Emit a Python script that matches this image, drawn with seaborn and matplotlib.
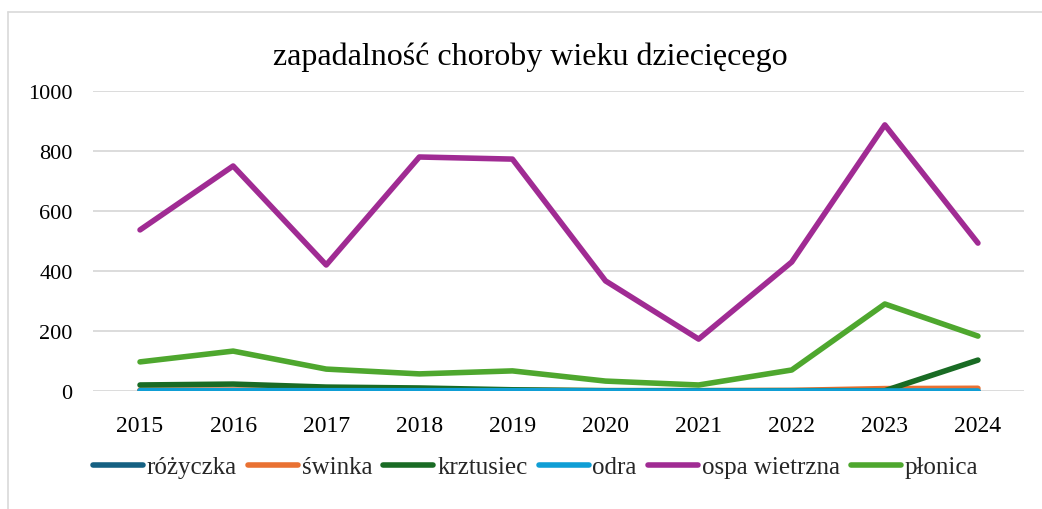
import matplotlib
matplotlib.use("Agg")
import matplotlib.pyplot as plt
import seaborn as sns
import pandas as pd
from matplotlib.lines import Line2D

years = ["2015", "2016", "2017", "2018", "2019", "2020", "2021", "2022", "2023", "2024"]
rozyczka = [1, 1, 0, 0, 0, 0, 0, 0, 0, 0]
swinka = [3, 3, 3, 3, 2, 1, 1, 2, 8, 9]
krztusiec = [20, 23, 13, 10, 4, 1, 1, 1, 1, 103]
odra = [1, 1, 1, 1, 1, 0, 0, 0, 0, 0]
ospa = [537, 750, 420, 780, 773, 367, 173, 430, 887, 493]
plonica = [97, 133, 73, 57, 67, 33, 20, 70, 290, 183]

series_names = ["różyczka", "świnka", "krztusiec", "odra", "ospa wietrzna", "płonica"]
series_vals = [rozyczka, swinka, krztusiec, odra, ospa, plonica]
colors = ["#156082", "#E97132", "#196B24", "#0F9ED5", "#A02B93", "#4EA72E"]

rows = []
for name, vals in zip(series_names, series_vals):
    for i, (yr, v) in enumerate(zip(years, vals)):
        rows.append({"idx": i, "rok": yr, "choroba": name, "wartosc": v})
df = pd.DataFrame(rows)

sns.set_theme(style="white")
plt.rcParams["font.family"] = ["Liberation Serif", "DejaVu Serif"]

fig = plt.figure(figsize=(10.42, 5.10), dpi=100)
ax = fig.add_axes([0.0897, 0.2314, 0.9832 - 0.0897, 0.8196 - 0.2314])

sns.lineplot(data=df, x="idx", y="wartosc", hue="choroba", hue_order=series_names,
             palette=colors, linewidth=4.0, ax=ax, legend=False, sort=False)
for ln in ax.get_lines():
    ln.set_solid_capstyle("round")
    ln.set_solid_joinstyle("round")

ax.set_xlim(-0.5, 9.5)
ax.set_ylim(0, 1000)
ax.set_yticks([0, 200, 400, 600, 800, 1000])
ax.set_xticks(range(len(years)))
ax.set_xticklabels(years)
ax.yaxis.grid(True, color="#d9d9d9", linewidth=1.3)
ax.set_axisbelow(True)
for s in ax.spines.values():
    s.set_visible(False)
ax.tick_params(axis="both", length=0, labelsize=17, colors="black")
ax.tick_params(axis="x", pad=17)
ax.tick_params(axis="y", labelsize=16, pad=15)
ax.set_xlabel("")
ax.set_ylabel("")

fig.text(0.5087, 0.888, "zapadalność choroby wieku dziecięcego", ha="center", va="center",
         fontsize=23, color="black")

handles = [Line2D([0], [0], color=c, linewidth=4.0, solid_capstyle="round") for c in colors]
fig.legend(handles, series_names, loc="center", bbox_to_anchor=(0.514, 0.082), ncol=6,
           frameon=False, fontsize=18, handlelength=2.0, handletextpad=0.15, columnspacing=0.45)

# outer chart border
fig.add_artist(Line2D([8 / 1042, 1.0], [1 - 13 / 510, 1 - 13 / 510], transform=fig.transFigure,
                      color="#d9d9d9", linewidth=1.2))
fig.add_artist(Line2D([8 / 1042, 8 / 1042], [1 - 13 / 510, 0.0], transform=fig.transFigure,
                      color="#d9d9d9", linewidth=1.2))

fig.savefig("out.png", dpi=100, facecolor="white")
